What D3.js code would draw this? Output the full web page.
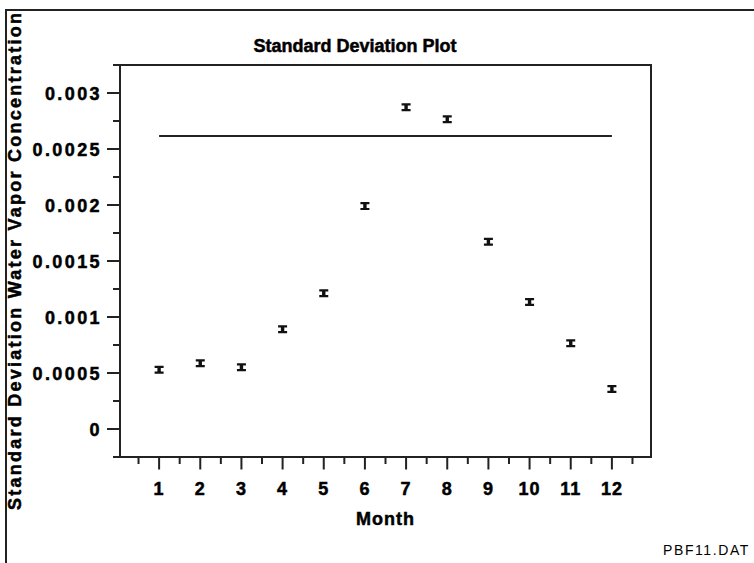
<!DOCTYPE html>
<html>

<head>
  <meta charset="utf-8">
  <title>Standard Deviation Plot</title>
  <script src="https://cdn.jsdelivr.net/npm/d3@7/dist/d3.min.js"></script>
  <style>
    body {
      margin: 0;
      background: #fff;
    }

    text {
      font-family: "Liberation Sans", Arial, sans-serif;
      fill: #000;
    }

    .bold {
      font-weight: bold;
      stroke: #000;
      stroke-width: 0.5px;
    }
  </style>
</head>

<body>
  <svg id="chart" width="754" height="563"></svg>

  <script>
    var months = [1, 2, 3, 4, 5, 6, 7, 8, 9, 10, 11, 12];
    var sdValues = [0.000529, 0.000587, 0.000551, 0.00089, 0.001212, 0.00199,
      0.002873, 0.002765, 0.001672, 0.001134, 0.000765, 0.000357];
    var overallSd = 0.002616;
    var yTicks = [0, 0.0005, 0.001, 0.0015, 0.002, 0.0025, 0.003];
    var yTickLabels = ["0", "0.0005", "0.001", "0.0015", "0.002", "0.0025", "0.003"];

    var svg = d3.select("#chart"),
      width = +svg.attr("width"),
      height = +svg.attr("height");

    var x = d3.scaleLinear().domain([0.05, 12.95]).range([120, 651]);
    var y = d3.scaleLinear().domain([-0.00025, 0.00325]).range([457, 65]);

    // outer border (only top and left show in the picture)
    svg.append("path")
      .attr("d", "M6," + height + "V10H" + width)
      .attr("fill", "none")
      .attr("stroke", "#222")
      .attr("stroke-width", 2);

    // plot frame
    svg.append("rect")
      .attr("x", x.range()[0])
      .attr("y", y.range()[1])
      .attr("width", x.range()[1] - x.range()[0])
      .attr("height", y.range()[0] - y.range()[1])
      .attr("fill", "none")
      .attr("stroke", "#222")
      .attr("stroke-width", 2);

    // y axis ticks
    var yMinor = d3.range(-1, 14, 2).map(i => i * 0.00025);
    var yAxis = svg.append("g").attr("stroke", "#222").attr("stroke-width", 2);
    yAxis.selectAll(".major")
      .data(yTicks)
      .enter()
      .append("line")
      .attr("x1", x.range()[0] - 13)
      .attr("x2", x.range()[0])
      .attr("y1", d => y(d))
      .attr("y2", d => y(d));
    yAxis.selectAll(".minor")
      .data(yMinor)
      .enter()
      .append("line")
      .attr("x1", x.range()[0] - 7)
      .attr("x2", x.range()[0])
      .attr("y1", d => y(d))
      .attr("y2", d => y(d));

    svg.append("g")
      .selectAll("text")
      .data(yTicks)
      .enter()
      .append("text")
      .attr("class", "bold")
      .attr("x", 102)
      .attr("y", d => y(d) + 7)
      .attr("text-anchor", "end")
      .style("font-size", "18px")
      .style("letter-spacing", "2.4px")
      .text((d, i) => yTickLabels[i]);

    // x axis ticks
    var xMinor = d3.range(0.5, 13, 1);
    var xAxis = svg.append("g").attr("stroke", "#222").attr("stroke-width", 2);
    xAxis.selectAll(".major")
      .data(months)
      .enter()
      .append("line")
      .attr("x1", d => x(d))
      .attr("x2", d => x(d))
      .attr("y1", y.range()[0])
      .attr("y2", y.range()[0] + 12.5);
    xAxis.selectAll(".minor")
      .data(xMinor)
      .enter()
      .append("line")
      .attr("x1", d => x(d))
      .attr("x2", d => x(d))
      .attr("y1", y.range()[0])
      .attr("y2", y.range()[0] + 7);

    svg.append("g")
      .selectAll("text")
      .data(months)
      .enter()
      .append("text")
      .attr("class", "bold")
      .attr("x", d => x(d))
      .attr("y", 495)
      .attr("text-anchor", "middle")
      .style("font-size", "18px")
      .style("letter-spacing", "1px")
      .text(d => d);

    // reference line for the overall standard deviation
    svg.append("line")
      .attr("x1", x(1))
      .attr("x2", x(12))
      .attr("y1", y(overallSd))
      .attr("y2", y(overallSd))
      .attr("stroke", "#222")
      .attr("stroke-width", 2);

    // I-beam markers
    var marker = "M-4.5,-4h9v2.2h-2.8v3.6h2.8v2.2h-9v-2.2h2.8v-3.6h-2.8z";
    svg.append("g")
      .selectAll("path")
      .data(months)
      .enter()
      .append("path")
      .attr("d", marker)
      .attr("transform", (d, i) => "translate(" + x(d) + "," + y(sdValues[i]) + ")")
      .attr("fill", "#111");

    // titles
    svg.append("text")
      .attr("class", "bold")
      .attr("x", 355)
      .attr("y", 52)
      .attr("text-anchor", "middle")
      .style("font-size", "18px")
      .text("Standard Deviation Plot");

    svg.append("text")
      .attr("class", "bold")
      .attr("x", (x.range()[0] + x.range()[1]) / 2)
      .attr("y", 525)
      .attr("text-anchor", "middle")
      .style("font-size", "18px")
      .style("letter-spacing", "1px")
      .text("Month");

    svg.append("text")
      .attr("class", "bold")
      .attr("transform", "translate(21,261.5) rotate(-90)")
      .attr("text-anchor", "middle")
      .attr("textLength", 497)
      .attr("lengthAdjust", "spacing")
      .style("font-size", "18px")
      .text("Standard Deviation Water Vapor Concentration");

    svg.append("text")
      .attr("x", 663)
      .attr("y", 555)
      .style("font-size", "14px")
      .style("letter-spacing", "1.6px")
      .text("PBF11.DAT");
  </script>
</body>

</html>
